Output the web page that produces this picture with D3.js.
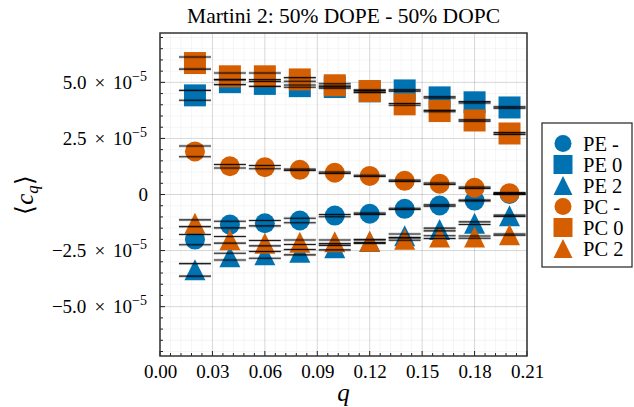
<!DOCTYPE html>
<html>
<head>
<meta charset="utf-8">
<script src="https://cdn.jsdelivr.net/npm/d3@7"></script>
<style>
  body { margin: 0; background: #fff; }
  text { font-family: "Liberation Serif", "DejaVu Serif", serif; fill: #000; }
</style>
</head>
<body>
<div id="chart"></div>
<script>
// data, values in units of 1e-5
var qs = [0.02, 0.04, 0.06, 0.08, 0.10, 0.12, 0.14, 0.16, 0.18, 0.20];
var peMinus = [-2.01, -1.34, -1.28, -1.16, -0.94, -0.86, -0.64, -0.49, -0.27, 0.02];
var peZero  = [4.42, 5.01, 4.93, 4.83, 4.79, 4.60, 4.64, 4.33, 4.11, 3.88];
var peTwo   = [-3.36, -2.77, -2.69, -2.57, -2.37, -2.10, -1.84, -1.56, -1.28, -0.95];
var pcMinus = [1.92, 1.26, 1.22, 1.10, 0.97, 0.83, 0.61, 0.48, 0.30, 0.06];
var pcZero  = [5.86, 5.27, 5.27, 5.13, 4.87, 4.61, 4.02, 3.72, 3.30, 2.72];
var pcTwo   = [-1.28, -2.02, -2.17, -2.13, -2.11, -2.08, -1.99, -1.90, -1.90, -1.79];
// half spread of the two bars drawn on each point
var peMinusErr = [0.23, 0.15, 0.12, 0.10, 0.05, 0.03, 0.03, 0.03, 0.02, 0.02];
var peZeroErr  = [0.22, 0.11, 0.11, 0.05, 0.05, 0.04, 0.03, 0.03, 0.03, 0.03];
var peTwoErr   = [0.28, 0.15, 0.15, 0.12, 0.10, 0.08, 0.08, 0.06, 0.06, 0.03];
var pcMinusErr = [0.24, 0.08, 0.07, 0.03, 0.03, 0.03, 0.03, 0.03, 0.03, 0.03];
var pcZeroErr  = [0.27, 0.15, 0.15, 0.08, 0.07, 0.05, 0.04, 0.03, 0.03, 0.04];
var pcTwoErr   = [0.15, 0.15, 0.12, 0.10, 0.08, 0.06, 0.05, 0.06, 0.05, 0.03];

var seriesNames = ["PE -", "PE 0", "PE 2", "PC -", "PC 0", "PC 2"];
var xTicks = [0, 0.03, 0.06, 0.09, 0.12, 0.15, 0.18, 0.21];
var yTicks = [-5.0, -2.5, 0, 2.5, 5.0];
var yTickLabels = ["\u22125.0", "\u22122.5", "0", "2.5", "5.0"];

var blue = "#0072B2", orange = "#D55E00";

var series = [
  {name: seriesNames[0], vals: peMinus, err: peMinusErr, shape: "circle", color: blue},
  {name: seriesNames[1], vals: peZero, err: peZeroErr, shape: "square", color: blue},
  {name: seriesNames[2], vals: peTwo, err: peTwoErr, shape: "triangle", color: blue},
  {name: seriesNames[3], vals: pcMinus, err: pcMinusErr, shape: "circle", color: orange},
  {name: seriesNames[4], vals: pcZero, err: pcZeroErr, shape: "square", color: orange},
  {name: seriesNames[5], vals: pcTwo, err: pcTwoErr, shape: "triangle", color: orange}
];

var w = 634, h = 407;
var pLeft = 160, pRight = 527, pTop = 33, pBottom = 356;
var serif = "Liberation Serif";

var svg = d3.select("#chart").append("svg")
  .attr("width", w).attr("height", h);

var x = d3.scaleLinear().domain([0, 0.21]).range([pLeft, pRight]);
var y = d3.scaleLinear().domain([-7.2, 7.2]).range([pBottom, pTop]);

function shapePath(shape, s) {
  var p = d3.path();
  if (shape == "circle") {
    p.arc(0, 0, s / 2, 0, 2 * Math.PI);
  } else if (shape == "square") {
    p.rect(-s / 2, -s / 2, s, s);
  } else {
    p.moveTo(0, -s / 2);
    p.lineTo(s / 2, s / 2);
    p.lineTo(-s / 2, s / 2);
    p.closePath();
  }
  return p.toString();
}
var markSize = {circle: 20, square: 22, triangle: 21};

// grid
var minorX = d3.range(0, 0.2101, 0.006);
var minorY = d3.range(-7, 7.01, 0.5);
var grid = svg.append("g");
grid.selectAll(".mx").data(minorX).enter().append("line")
  .attr("x1", d => x(d)).attr("x2", d => x(d))
  .attr("y1", pTop).attr("y2", pBottom)
  .attr("stroke", "#000").attr("stroke-opacity", 0.05).attr("stroke-width", 0.8);
grid.selectAll(".my").data(minorY).enter().append("line")
  .attr("y1", d => y(d)).attr("y2", d => y(d))
  .attr("x1", pLeft).attr("x2", pRight)
  .attr("stroke", "#000").attr("stroke-opacity", 0.05).attr("stroke-width", 0.8);
grid.selectAll(".gx").data(xTicks).enter().append("line")
  .attr("x1", d => x(d)).attr("x2", d => x(d))
  .attr("y1", pTop).attr("y2", pBottom)
  .attr("stroke", "#000").attr("stroke-opacity", 0.12).attr("stroke-width", 1);
grid.selectAll(".gy").data(yTicks).enter().append("line")
  .attr("y1", d => y(d)).attr("y2", d => y(d))
  .attr("x1", pLeft).attr("x2", pRight)
  .attr("stroke", "#000").attr("stroke-opacity", 0.12).attr("stroke-width", 1);

// markers
series.forEach(function(s) {
  svg.append("g").selectAll("path").data(s.vals).enter().append("path")
    .attr("d", shapePath(s.shape, markSize[s.shape]))
    .attr("transform", (d, i) => "translate(" + x(qs[i]) + "," + y(d) + ")")
    .attr("fill", s.color);
});

// bars on top of markers
series.forEach(function(s) {
  var g = svg.append("g");
  s.vals.forEach(function(v, i) {
    [v - s.err[i], v + s.err[i]].forEach(function(yy) {
      g.append("line")
        .attr("x1", x(qs[i]) - 16).attr("x2", x(qs[i]) + 16)
        .attr("y1", y(yy)).attr("y2", y(yy))
        .attr("stroke", "#000").attr("stroke-opacity", 0.18).attr("stroke-width", 3);
      g.append("line")
        .attr("x1", x(qs[i]) - 16).attr("x2", x(qs[i]) + 16)
        .attr("y1", y(yy)).attr("y2", y(yy))
        .attr("stroke", "#000").attr("stroke-opacity", 0.85).attr("stroke-width", 1.1);
    });
  });
});

// axes
var xAxis = d3.axisBottom(x).tickValues(xTicks).tickSize(0).tickFormat(d3.format(".2f"));
svg.append("g").attr("transform", "translate(0," + pBottom + ")").call(xAxis)
  .call(g => g.select(".domain").remove())
  .selectAll("text").attr("font-size", 19).attr("dy", "1.0em")
  .style("font-family", serif);

// inward ticks
var tk = svg.append("g").attr("stroke", "#222").attr("stroke-width", 1);
tk.selectAll(".tx").data(minorX).enter().append("line")
  .attr("x1", d => x(d)).attr("x2", d => x(d))
  .attr("y1", pBottom).attr("y2", (d, i) => pBottom - (i % 5 == 0 ? 5 : 3));
tk.selectAll(".ty").data(minorY).enter().append("line")
  .attr("y1", d => y(d)).attr("y2", d => y(d))
  .attr("x1", pLeft).attr("x2", (d, i) => pLeft + (Math.round(d * 10) % 25 == 0 ? 5 : 3));

// y tick labels with exponent
var yl = svg.append("g");
yTicks.forEach(function(t, i) {
  var txt = yl.append("text")
    .attr("x", t == 0 ? 148 : 147).attr("y", y(t) + 6.5)
    .attr("text-anchor", "end").attr("font-size", 19)
    .style("font-family", serif);
  if (t == 0) {
    txt.text("0");
  } else {
    txt.append("tspan").text(yTickLabels[i]);
    txt.append("tspan").attr("dx", 8).text("\u00d7");
    txt.append("tspan").attr("dx", 8).text("10");
    txt.append("tspan").attr("dy", -8).attr("font-size", 14).text("\u22125");
  }
});

// frame
svg.append("rect").attr("x", pLeft).attr("y", pTop)
  .attr("width", pRight - pLeft).attr("height", pBottom - pTop)
  .attr("fill", "none").attr("stroke", "#333").attr("stroke-width", 1.5);

// title and axis labels
svg.append("text").attr("x", (pLeft + pRight) / 2).attr("y", 23)
  .attr("text-anchor", "middle").attr("font-size", 21.5)
  .style("font-family", serif)
  .text("Martini 2: 50% DOPE - 50% DOPC");

svg.append("text").attr("x", (pLeft + pRight) / 2).attr("y", 401)
  .attr("text-anchor", "middle").attr("font-size", 25).attr("font-style", "italic")
  .style("font-family", serif)
  .text("q");

var ylab = svg.append("text")
  .attr("transform", "translate(33,195) rotate(-90)")
  .attr("text-anchor", "middle").attr("font-size", 25)
  .style("font-family", serif);
ylab.append("tspan").text("\u27e8");
ylab.append("tspan").attr("font-style", "italic").text("c");
ylab.append("tspan").attr("font-style", "italic").attr("font-size", 17).attr("dy", 5).text("q");
ylab.append("tspan").attr("dy", -5).text("\u27e9");

// legend
var legend = svg.append("g").attr("transform", "translate(542,123)");
legend.append("rect").attr("width", 90).attr("height", 144)
  .attr("fill", "#fff").attr("stroke", "#333").attr("stroke-width", 1.3);
var legSize = {circle: 17, square: 19, triangle: 19};
series.forEach(function(s, i) {
  legend.append("path")
    .attr("d", shapePath(s.shape, legSize[s.shape]))
    .attr("transform", "translate(21," + (20.5 + i * 21) + ")")
    .attr("fill", s.color);
  legend.append("text")
    .attr("x", 41).attr("y", 27.5 + i * 21)
    .attr("font-size", 20.5)
    .style("font-family", serif)
    .text(s.name);
});
</script>
</body>
</html>
